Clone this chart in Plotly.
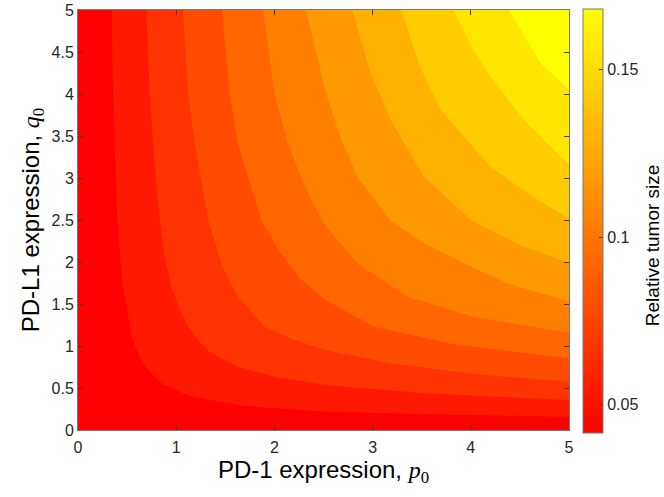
import plotly.graph_objects as go
from plotly.colors import sample_colorscale

# axis extents (PD-1 expression p0, PD-L1 expression q0)
p_range = [0, 5]
q_range = [0, 5]

# colour limits and contour levels of relative tumor size
z_min = 0.0416
levels = [0.0542, 0.0669, 0.0795, 0.0922, 0.1048, 0.1174, 0.1301, 0.1427, 0.1554, 0.1680]
z_max = levels[-1]
cbar_ticks = [0.05, 0.1, 0.15]

# contour lines, one list per level (p0 values, q0 values)
contour_p = [
    [0.343, 0.356, 0.373, 0.40, 0.425, 0.447, 0.49, 0.545, 0.594, 0.645, 0.75, 0.849, 1.0, 1.154, 1.697, 2.505, 3.52, 5.0],
    [0.696, 0.73, 0.764, 0.832, 0.885, 0.95, 1.03, 1.12, 1.24, 1.358, 1.63, 2.0, 2.505, 3.52, 5.0],
    [1.069, 1.12, 1.188, 1.324, 1.46, 1.54, 1.63, 1.90, 2.2, 2.505, 3.184, 4.03, 5.0],
    [1.466, 1.545, 1.629, 1.867, 2.04, 2.25, 2.505, 3.014, 3.863, 5.0],
    [1.884, 2.003, 2.139, 2.3, 2.50, 2.845, 3.354, 4.03, 5.0],
    [2.325, 2.505, 2.66, 2.845, 3.184, 3.5, 3.863, 4.372, 5.0],
    [2.793, 2.98, 3.184, 3.523, 4.01, 4.542, 5.0],
    [3.292, 3.48, 3.693, 4.202, 4.6, 5.0],
    [3.822, 4.0, 4.2, 4.542, 5.0],
    [4.389, 4.55, 4.71, 5.0],
]
contour_q = [
    [5.0, 4.0, 3.41, 2.48, 2.14, 1.80, 1.50, 1.13, 0.96, 0.833, 0.665, 0.556, 0.472, 0.397, 0.286, 0.22, 0.187, 0.157],
    [5.0, 4.0, 3.41, 2.5, 2.05, 1.706, 1.45, 1.23, 1.05, 0.913, 0.754, 0.635, 0.54, 0.437, 0.357],
    [5.0, 4.0, 3.41, 2.5, 1.984, 1.78, 1.587, 1.23, 1.07, 0.955, 0.794, 0.667, 0.575],
    [5.0, 4.0, 3.41, 2.5, 2.14, 1.815, 1.56, 1.23, 1.012, 0.855],
    [5.0, 4.0, 3.41, 2.92, 2.46, 1.984, 1.587, 1.349, 1.159],
    [5.0, 4.1, 3.52, 3.016, 2.49, 2.24, 2.024, 1.746, 1.528],
    [5.0, 4.25, 3.69, 3.016, 2.49, 2.183, 1.99],
    [5.0, 4.33, 3.81, 3.135, 2.8, 2.52],
    [5.0, 4.58, 4.206, 3.69, 3.155],
    [5.0, 4.68, 4.365, 4.05],
]

autumn = [[0, "rgb(255,0,0)"], [1, "rgb(255,255,0)"]]

# each band is coloured by its lower level (MATLAB contourf style)
lower = [z_min] + levels
band_colors = sample_colorscale(autumn, [(v - z_min) / (z_max - z_min) for v in lower])

fig = go.Figure()

# fill the region below each level, highest level first
for k in range(len(levels) - 1, -1, -1):
    fig.add_trace(go.Scatter(
        x=[p_range[0]] + contour_p[k],
        y=[q_range[1]] + contour_q[k],
        mode="lines",
        line=dict(width=0),
        fill="tozeroy",
        fillcolor=band_colors[k],
        hoverinfo="skip",
        showlegend=False,
    ))

# continuous colorbar
fig.add_trace(go.Scatter(
    x=[None], y=[None], mode="markers", showlegend=False,
    marker=dict(
        color=[z_min], cmin=z_min, cmax=z_max, colorscale=autumn, showscale=True,
        colorbar=dict(
            thickness=20, len=1.01, lenmode="fraction",
            x=1.0285, xanchor="left", xpad=0,
            y=0.4976, yanchor="middle", ypad=0,
            outlinewidth=1, outlinecolor="rgb(120,120,120)",
            ticks="inside", ticklen=4, tickcolor="rgb(60,60,60)",
            tickvals=cbar_ticks, ticktext=["0.05", "0.1", "0.15"],
            tickfont=dict(size=16, color="rgb(38,38,38)"),
        ),
    ),
))

# colorbar label, placed like the reference (slightly below the bar centre)
fig.add_annotation(
    text="Relative tumor size", textangle=-90,
    xref="paper", yref="paper", x=1.169, y=0.44,
    xanchor="center", yanchor="middle", showarrow=False,
    font=dict(size=19, color="black"),
)

axis_common = dict(
    showgrid=False, zeroline=False, showline=True, mirror="ticks",
    linecolor="rgb(120,120,120)", linewidth=1,
    ticks="inside", ticklen=5, tickcolor="rgb(60,60,60)",
    tickfont=dict(size=16, color="rgb(38,38,38)"),
    ticklabeloverflow="allow",
    automargin=False,
)

fig.update_layout(
    width=664, height=497,
    margin=dict(l=78, r=95, t=10, b=67, autoexpand=False),
    paper_bgcolor="white",
    plot_bgcolor=band_colors[-1],
    font=dict(family="Liberation Sans, Arial, sans-serif"),
    xaxis=dict(
        range=p_range, dtick=1, ticklabelstandoff=3,
        title=dict(text='PD-1 expression, <span style="font-family:Liberation Serif"><i>p</i><sub>0</sub></span>',
                   font=dict(size=24, color="black"), standoff=2),
        **axis_common,
    ),
    yaxis=dict(
        range=q_range, dtick=0.5,
        title=dict(text='PD-L1 expression, <span style="font-family:Liberation Serif"><i>q</i><sub>0</sub></span>',
                   font=dict(size=24, color="black"), standoff=5),
        **axis_common,
    ),
)

# drop the default 8px page margin so the figure fills the window
fig.write_html("out.html", config={"displayModeBar": False},
               post_script="document.body.style.margin = '0';")
